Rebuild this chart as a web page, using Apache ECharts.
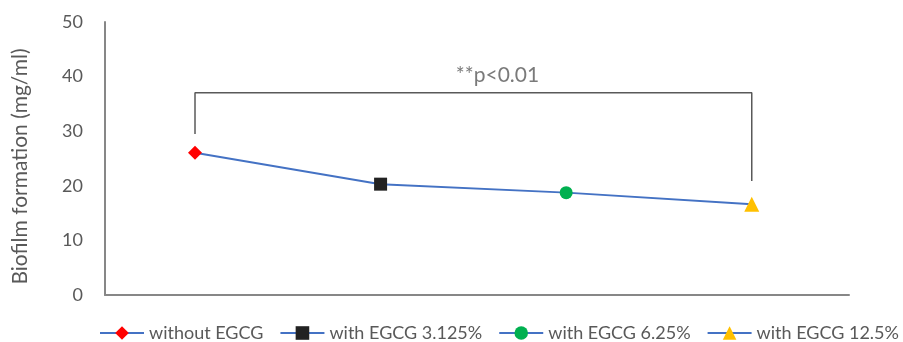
<!DOCTYPE html>
<html><head><meta charset="utf-8">
<script src="https://cdn.jsdelivr.net/npm/echarts@6/dist/echarts.min.js"></script>
<style>html,body{margin:0;padding:0;background:#fff}#c{width:903px;height:342px}</style>
</head><body><div id="c"></div>
<script>
const categories = ['without EGCG', 'with EGCG 3.125%', 'with EGCG 6.25%', 'with EGCG 12.5%'];
const values = [26.05, 20.3, 18.75, 16.6];
const yTicks = [0, 10, 20, 30, 40, 50];
const bracket = [[0, 29.5], [0, 37.05], [3, 37.05], [3, 20.9]];
const annotationText = '**p<0.01';
const annotationPos = [1.63, 40.2];

const symbols = ['diamond', 'rect', 'circle', 'triangle'];
const colors = ['#FF0000', '#222222', '#00B050', '#FFC000'];
const sizes = [14, 13, 13, 15];
const FONT = 'Lato';
const BLUE = '#4472C4';

const series = [{
  name: 'main', type: 'line', data: values.map((v, i) => [i, v]),
  showSymbol: false, lineStyle: { color: BLUE, width: 2 }, z: 2, silent: true
}, {
  name: 'bracket', type: 'line', data: bracket, showSymbol: false,
  lineStyle: { color: '#595959', width: 1.5 }, z: 1, silent: true
}, {
  name: 'annot', type: 'scatter', data: [annotationPos], symbolSize: 0,
  label: { show: true, formatter: annotationText, position: 'inside', color: '#595959', fontSize: 21, fontFamily: FONT }
}];
categories.forEach((c, i) => {
  series.push({
    name: c, type: 'line', data: [[i, values[i]]],
    symbol: symbols[i], symbolSize: sizes[i], showSymbol: true,
    itemStyle: { color: colors[i] }, lineStyle: { color: BLUE, width: 2 }, z: 5
  });
});

const chart = echarts.init(document.getElementById('c'));
chart.setOption({
  animation: false,
  textStyle: { fontFamily: FONT },
  grid: { left: 105, right: 54, top: 22, bottom: 47 },
  xAxis: {
    type: 'value', min: -0.485, max: 3.524,
    axisLine: { show: true, onZero: false, lineStyle: { color: '#878787', width: 2 } },
    axisTick: { show: false }, axisLabel: { show: false }, splitLine: { show: false }
  },
  yAxis: {
    type: 'value', min: yTicks[0], max: yTicks[yTicks.length - 1], interval: 10,
    name: 'Biofilm formation (mg/ml)', nameLocation: 'middle', nameGap: 74,
    nameTextStyle: { color: '#595959', fontSize: 21, fontFamily: FONT, padding: [0, 16, 0, 0] },
    axisLine: { show: true, onZero: false, lineStyle: { color: '#878787', width: 2 } },
    axisTick: { show: false }, splitLine: { show: false },
    axisLabel: { color: '#595959', fontSize: 18, margin: 22, fontFamily: FONT }
  },
  legend: {
    data: categories, bottom: 0, left: 99, width: 805, padding: 0,
    itemWidth: 44, itemHeight: 17, itemGap: 16,
    textStyle: { color: '#595959', fontSize: 18, fontFamily: FONT }
  },
  series
});
</script></body></html>
